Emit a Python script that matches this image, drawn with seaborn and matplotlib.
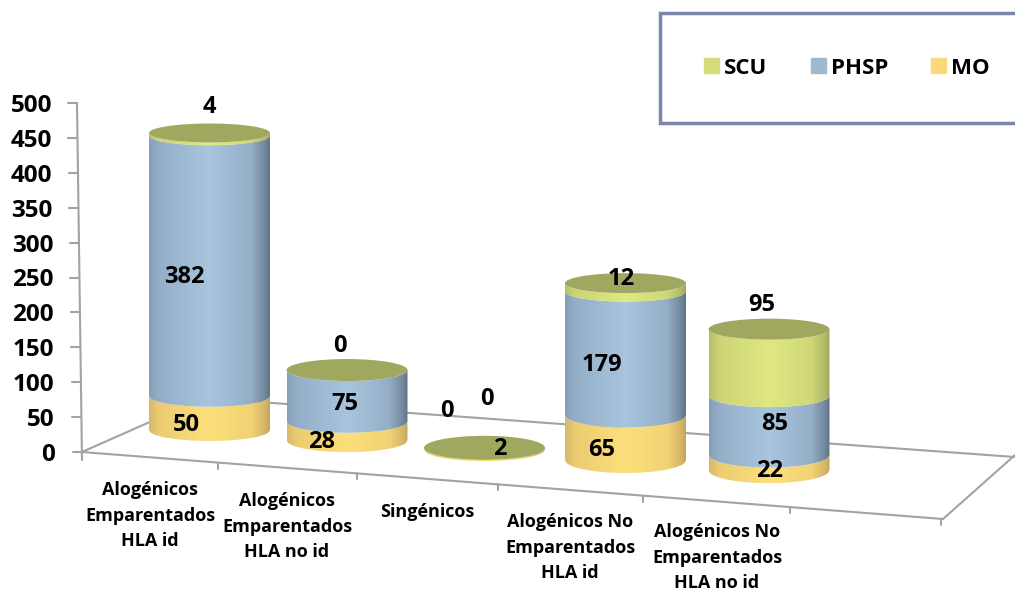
import numpy as np
import matplotlib
matplotlib.use('Agg')
import matplotlib.pyplot as plt
import seaborn as sns
from matplotlib.colors import LinearSegmentedColormap
from matplotlib.patches import Ellipse, Patch, Rectangle
from matplotlib.path import Path
from matplotlib.transforms import Affine2D, ScaledTranslation

# data
categories = ['Alogénicos\nEmparentados\nHLA id', 'Alogénicos\nEmparentados\nHLA no id', 'Singénicos',
              'Alogénicos No\nEmparentados\nHLA id', 'Alogénicos No\nEmparentados\nHLA no id']
mo = [50, 28, 2, 65, 22]
phsp = [382, 75, 0, 179, 85]
scu = [4, 0, 0, 12, 95]
y_ticks = [0, 50, 100, 150, 200, 250, 300, 350, 400, 450, 500]

W, H = 1015, 592
Y0_PX, Y500_PX = 452, 103
PX_PER_UNIT = (Y0_PX - Y500_PX) / 500
X0_PX, DX_PX = 207, 140.5

# perspective layout: the floor climbs towards the back, bars shrink a little
floor = [31.5, 17, 4, -11.5, -26]
depth = np.array([0.976, 0.975, 1.0, 0.99, 1.0])
bar_nudge = [2.5 / DX_PX, -0.5 / DX_PX, -3.5 / DX_PX, -3 / DX_PX, 0]
ry_bottom = [11, 12, 12, 13, 13]
ry_top = [9.5, 11, 12, 10, 10.5]
cat_label_top = [481, 492, 503, 513, 523]
cat_label_x = [150, 287, 427, 570, 717]
mo_xy = [(186, 425), (322, 442), (500, 449), (602, 450), (770, 471)]
phsp_xy = [(184, 277), (345, 404), (487, 399), (602, 365), (775, 424)]
scu_xy = [(209, 107), (340, 346), (447, 411), (621, 279), (762, 305)]

stops = [0, 0.08, 0.5, 0.85, 0.96, 1]
shades = {
    'MO': ['#d8b96c', '#eccb72', '#fde07c', '#f2d274', '#d6b768', '#c4a562'],
    'PHSP': ['#86a0b8', '#94aec8', '#a9c5de', '#94aec6', '#73899e', '#5f7387'],
    'SCU': ['#b6be6c', '#ccd476', '#dfe882', '#cfd778', '#b4bb68', '#9fa65c'],
}
legend_colors = {'SCU': '#d4dc7c', 'PHSP': '#a0b8d0', 'MO': '#fbd978'}
lid_color = '#a0a860'
axis_color = '#a3a3a3'

sns.set_theme(style='white')
plt.rcParams['font.family'] = ['Open Sans', 'DejaVu Sans']
plt.rcParams['font.weight'] = 'bold'

fig = plt.figure(figsize=(W / 100, H / 100), dpi=100)
ax = fig.add_axes([0, 0, 1, 1])
ax.patch.set_visible(False)
# drawing frame in image pixels, for the hand-made 3D floor and box
px = Affine2D().scale(1 / W, -1 / H).translate(0, 1) + fig.transFigure

floor_base = np.array(floor)
mo_h = np.array(mo) * depth
phsp_h = np.array(phsp) * depth
scu_h = np.array(scu) * depth
bottoms = [floor_base, floor_base + mo_h, floor_base + mo_h + phsp_h]
for name, vals, bot in zip(['MO', 'PHSP', 'SCU'], [mo_h, phsp_h, scu_h], bottoms):
    sns.barplot(x=categories, y=vals, bottom=bot, width=0.861, color=legend_colors[name],
                saturation=1, errorbar=None, ax=ax)

ax.set_xlim((0 - X0_PX) / DX_PX, (W - X0_PX) / DX_PX)
ax.set_ylim((Y0_PX - H) / PX_PER_UNIT, Y0_PX / PX_PER_UNIT)
ax.autoscale(False)


def ry_at(i, value):
    # ellipse half height (data units) at a given height of the stack
    total = mo_h[i] + phsp_h[i] + scu_h[i]
    return (ry_bottom[i] + (ry_top[i] - ry_bottom[i]) * (value - floor[i]) / total) / PX_PER_UNIT


def draw_segment(patch, i, name):
    x0 = patch.get_x() + bar_nudge[i]
    w = patch.get_width()
    y0, y1 = patch.get_y(), patch.get_y() + patch.get_height()
    t = np.linspace(-1, 1, 80)
    xs = x0 + (t + 1) * w / 2
    arc = np.sqrt(1 - t ** 2)
    low = np.column_stack([xs, y0 - ry_at(i, y0) * arc])
    high = np.column_stack([xs[::-1], y1 - ry_at(i, y1) * arc[::-1]])
    path = Path(np.vstack([low, high, low[:1]]))
    cmap = LinearSegmentedColormap.from_list(name, list(zip(stops, shades[name])))
    grad = np.linspace(0, 1, 200).reshape(1, -1)
    im = ax.imshow(grad, cmap=cmap, aspect='auto', extent=[x0, x0 + w, y0 - 30, y1 + 5], zorder=3)
    im.set_clip_path(path, ax.transData)


n = len(categories)
for k, name in enumerate(['MO', 'PHSP', 'SCU']):
    for i in range(n):
        patch = ax.patches[k * n + i]
        patch.set_visible(False)
        if patch.get_height() > 0:
            draw_segment(patch, i, name)

for i in range(n):
    patch = ax.patches[2 * n + i]
    top = patch.get_y() + patch.get_height()
    ax.add_patch(Ellipse((i + bar_nudge[i], top), patch.get_width(), 2 * ry_at(i, top),
                         facecolor=lid_color, edgecolor='none', zorder=4))

# floor of the 3D box
floor_lines = [((82, 452), (943, 519)), ((82, 452), (204, 398)),
               ((204, 398), (1015, 457)), ((943, 519), (1015, 455)), ((77, 103), (82, 460))]
for a, b in floor_lines:
    ax.plot([a[0], b[0]], [a[1], b[1]], color=axis_color, lw=1.5, transform=px, zorder=1, clip_on=False)
for xt in [82, 218, 357, 498, 643, 790, 941]:
    yt = 452 + 0.0778 * (xt - 82)
    ax.plot([xt, xt], [yt, yt + 6], color=axis_color, lw=1.5, transform=px, zorder=1)
for v in y_ticks:
    yt = Y0_PX - v * PX_PER_UNIT
    xr = 82 - 5 * v / 500
    ax.plot([xr - 9, xr], [yt, yt], color=axis_color, lw=1.5, transform=px, zorder=1)

# axes: real tick labels, shifted to follow the perspective
sns.despine(ax=ax, left=True, bottom=True, top=True, right=True)
ax.spines['left'].set_position(('data', (55 - X0_PX) / DX_PX))
ax.spines['bottom'].set_position(('data', 0))
ax.set_yticks(y_ticks)
ax.set_yticklabels([str(v) for v in y_ticks])
ax.set_xticks(range(n))
ax.set_xticklabels(categories)
ax.tick_params(axis='both', length=0, pad=0)
ax.tick_params(axis='y', labelsize=17.5)
ax.tick_params(axis='x', labelsize=13)
for lab, v in zip(ax.get_yticklabels(), y_ticks):
    lab.set_fontweight('bold')
    lab.set_color('black')
    lab.set_transform(lab.get_transform() + ScaledTranslation(-3 * v / 500 / 100, 0, fig.dpi_scale_trans))
for i, lab in enumerate(ax.get_xticklabels()):
    lab.set_fontweight('bold')
    lab.set_color('black')
    lab.set_linespacing(1.55)
    off = ScaledTranslation((cat_label_x[i] - (X0_PX + i * DX_PX)) / 100,
                            (Y0_PX - cat_label_top[i]) / 100, fig.dpi_scale_trans)
    lab.set_transform(lab.get_transform() + off)

# value labels
for vals, xy in zip([mo, phsp, scu], [mo_xy, phsp_xy, scu_xy]):
    for v, (xp, yp) in zip(vals, xy):
        ax.text(xp, yp, str(v), transform=px, ha='center', va='center', fontsize=17,
                fontweight='bold', color='black', zorder=6)

# legend box runs off the right edge
ax.add_patch(Rectangle((660, 13), 380, 110, transform=px, facecolor='white', edgecolor='#7b86ab',
                       lw=2.5, zorder=5, clip_on=True))
handles = [Patch(color=legend_colors[s], label=s) for s in ['SCU', 'PHSP', 'MO']]
leg = ax.legend(handles=handles, ncol=3, frameon=False, loc='center', bbox_to_anchor=(847 / W, 1 - 68 / H),
                bbox_transform=fig.transFigure, prop={'weight': 'bold', 'size': 16}, handlelength=0.68,
                handleheight=0.68, handletextpad=0.22, columnspacing=1.95, labelcolor='black')
leg.set_zorder(7)

fig.savefig('out.png', dpi=100)
